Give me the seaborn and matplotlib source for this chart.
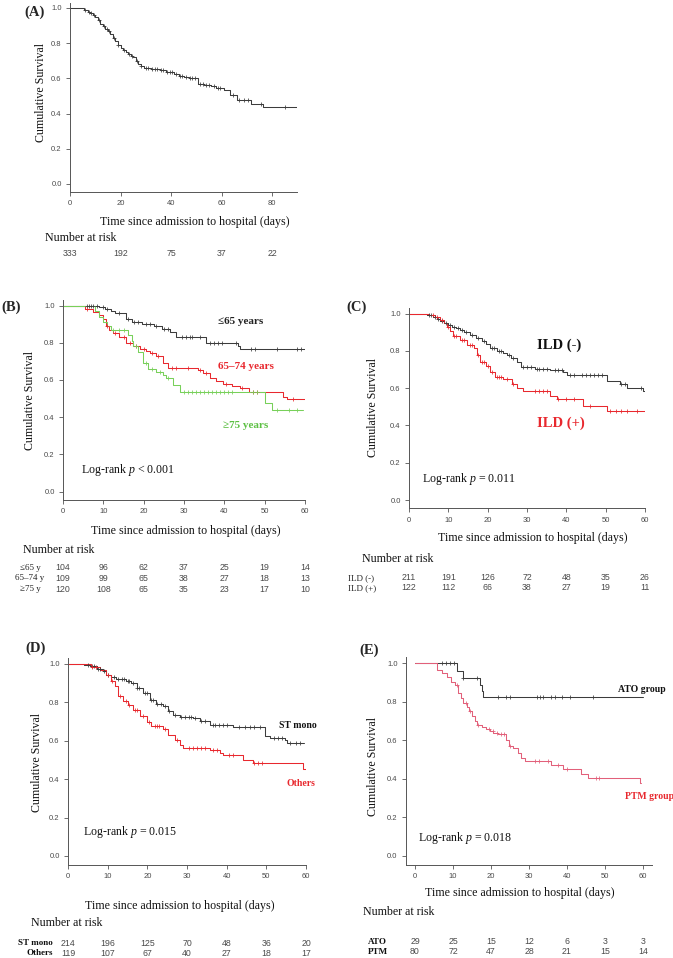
import numpy as np
import pandas as pd
import matplotlib.pyplot as plt
import seaborn as sns
from matplotlib.transforms import blended_transform_factory

W, H = 673, 958

# ---- (A) whole cohort ----
a_time = [0, 5.5, 7, 8, 9, 10, 11, 12, 13, 14, 15, 16, 17, 18, 19, 20, 21, 22, 23, 24, 25, 26,
          27, 28, 29.5, 32, 35.5, 38, 41, 43, 45, 47, 50.5, 53, 56, 58, 61, 63.5, 66, 71.5, 76.5]
a_surv = [1.0, 0.99, 0.98, 0.97, 0.96, 0.95, 0.93, 0.91, 0.90, 0.88, 0.87, 0.85, 0.83, 0.81, 0.79,
          0.77, 0.76, 0.75, 0.74, 0.73, 0.72, 0.70, 0.68, 0.67, 0.66, 0.655, 0.645, 0.635, 0.625,
          0.615, 0.61, 0.60, 0.567, 0.56, 0.554, 0.545, 0.535, 0.507, 0.48, 0.455, 0.437]
a_cens = [6, 7.5, 8.5, 9.5, 11.5, 13.5, 14.5, 15.5, 17.5, 19, 21.5, 23.5, 24.5, 26.5, 28, 30, 31,
          32.5, 33.5, 34.5, 36, 37, 38.5, 39.5, 40.5, 42, 43.5, 44.5, 46, 47.5, 48.5, 49.5, 51.5,
          52.5, 54, 55, 57, 58.5, 59.5, 64.5, 67, 69, 70.5, 75.5, 85]
a_end = 90
a_risk_days = [0, 20, 40, 60, 80]
a_risk = [333, 192, 75, 37, 22]

# ---- (B) age groups ----
b_young_time = [0, 9, 10.5, 12, 13, 15.5, 17, 19.5, 22.5, 24.5, 26.5, 28, 35.5, 43.5, 44]
b_young_surv = [1.0, 0.99, 0.98, 0.97, 0.96, 0.93, 0.91, 0.90, 0.89, 0.875, 0.86, 0.83, 0.80,
                0.785, 0.765]
b_young_cens = [6, 6.5, 7, 7.5, 8.5, 10, 11, 14, 16, 17.5, 18.5, 20.5, 21.5, 23, 25, 26, 29.5,
                30.5, 31.5, 32, 34, 36.5, 37.5, 38.5, 39.5, 43, 46.5, 47.5, 53, 58, 59]
b_mid_time = [0, 5.5, 7.5, 9, 10, 10.7, 11.5, 12.5, 14, 15.7, 17.4, 19, 20.5, 21.5, 23, 24.8, 26,
              33.5, 34.7, 36.4, 38, 39.7, 42, 43.8, 46, 54.5, 55.5]
b_mid_surv = [1.0, 0.98, 0.965, 0.95, 0.93, 0.89, 0.87, 0.85, 0.83, 0.80, 0.78, 0.765, 0.755,
              0.745, 0.73, 0.69, 0.662, 0.652, 0.64, 0.61, 0.595, 0.58, 0.57, 0.555, 0.535,
              0.51, 0.497]
b_mid_cens = [6, 11, 13, 15, 16.5, 18, 20, 22, 23.5, 27, 28, 31, 34, 35.5, 40.5, 44.5, 47, 48, 57]
b_old_time = [0, 8, 9, 10, 11, 12, 16, 17, 17.4, 18.6, 19.8, 21.1, 23.1, 24.8, 25.6, 27.3, 28.9,
              50, 51.7]
b_old_surv = [1.0, 0.97, 0.94, 0.91, 0.89, 0.87, 0.84, 0.81, 0.78, 0.75, 0.69, 0.66, 0.644,
              0.626, 0.608, 0.573, 0.535, 0.475, 0.44]
b_old_cens = [12.5, 14, 15, 18, 20.5, 22, 24, 26, 30, 31, 32, 33, 34, 35, 36, 37, 38, 39, 40, 41,
              42, 47, 48, 53, 56, 58]
b_labels = ["\u226465 y", "65\u201374 y", "\u226575 y"]
b_risk_young = [104, 96, 62, 37, 25, 19, 14]
b_risk_mid = [109, 99, 65, 38, 27, 18, 13]
b_risk_old = [120, 108, 65, 35, 23, 17, 10]

# ---- (C) ILD ----
c_neg_time = [0, 4.5, 6, 7, 8, 9, 10, 11, 12, 13, 14, 15.5, 17, 18.5, 19.5, 20.5, 22.3, 24, 25,
              26, 27.4, 28.6, 32, 35.8, 39.2, 40.2, 50.3, 53.6, 55.3, 59.6]
c_neg_surv = [1.0, 0.99, 0.98, 0.97, 0.96, 0.95, 0.94, 0.93, 0.92, 0.91, 0.90, 0.885, 0.87, 0.85,
              0.835, 0.815, 0.80, 0.786, 0.775, 0.76, 0.74, 0.714, 0.705, 0.695, 0.685, 0.67,
              0.64, 0.624, 0.60, 0.584]
c_neg_cens = [5, 5.5, 6.5, 7.5, 8.5, 9.5, 10.5, 11.5, 12.5, 13.5, 14.5, 16, 17.5, 19, 21, 21.5,
              23, 23.5, 25.5, 26.5, 29, 30, 31, 32.5, 33, 34, 35, 37, 38, 39, 41, 42, 44, 45, 46,
              47, 48, 49, 54, 55, 59]
c_pos_time = [0, 5, 6.5, 7.9, 9, 9.6, 10.4, 11.3, 13, 14.7, 16.4, 17.2, 18.1, 19.7, 20.6, 21.9,
              24, 26.1, 27.4, 29.1, 35.8, 37.5, 44.3, 50.3]
c_pos_surv = [1.0, 0.99, 0.98, 0.967, 0.95, 0.93, 0.904, 0.877, 0.86, 0.83, 0.814, 0.777, 0.74,
              0.72, 0.687, 0.66, 0.65, 0.623, 0.60, 0.585, 0.56, 0.542, 0.504, 0.479]
c_pos_cens = [6, 7, 8.5, 10, 11.5, 12, 13.5, 14, 15.5, 16, 17.5, 18.5, 19, 20, 21, 22.5, 23,
              23.5, 25, 26.5, 32, 33, 34, 35, 38, 40, 42, 46, 51, 52.5, 54, 55.5, 58]
c_labels = ["ILD (-)", "ILD (+)"]
c_risk_neg = [211, 191, 126, 72, 48, 35, 26]
c_risk_pos = [122, 112, 66, 38, 27, 19, 11]

# ---- (D) ST monotherapy vs others ----
d_st_time = [0, 4, 5.5, 7.2, 8.8, 9.7, 10.9, 12.2, 14.7, 16, 17.3, 18.9, 20.6, 22.3, 24, 25.3,
             26.5, 28.2, 31.6, 33.2, 35.8, 41.7, 49.7, 50.9, 54.7, 55.1]
d_st_surv = [1.0, 0.995, 0.988, 0.974, 0.962, 0.944, 0.932, 0.923, 0.913, 0.90, 0.875, 0.849,
             0.814, 0.791, 0.779, 0.753, 0.736, 0.723, 0.717, 0.704, 0.683, 0.67, 0.623, 0.614,
             0.602, 0.591]
d_st_cens = [5, 6, 6.5, 7.5, 8, 9, 10, 11.5, 12.5, 13.5, 14, 15, 15.5, 16.5, 17.5, 18, 19.5, 20,
             21, 21.5, 22.5, 23.5, 24.5, 25.5, 27, 28.5, 29.5, 30.5, 31, 32, 33.5, 34.5, 36.5, 37,
             38, 39, 40, 43, 44.5, 46, 47, 48.5, 52, 53, 54, 56, 57.5, 58.5]
d_oth_time = [0, 5.9, 8, 9.7, 10.9, 11.8, 12.6, 13.9, 15.2, 16.4, 18.1, 19.8, 21, 24, 25.3, 26.9,
              28.2, 29, 35.8, 38.3, 39.1, 44.2, 46.7, 59.3]
d_oth_surv = [1.0, 0.984, 0.97, 0.944, 0.91, 0.883, 0.831, 0.805, 0.788, 0.762, 0.727, 0.70,
              0.678, 0.661, 0.631, 0.605, 0.579, 0.565, 0.553, 0.539, 0.527, 0.501, 0.483, 0.454]
d_oth_cens = [6, 7, 10, 11, 13, 14.5, 15.5, 17, 17.5, 19, 20.5, 22, 22.5, 23, 24.5, 27.5, 30.5,
              31.5, 32.5, 33.5, 34.5, 36.5, 37.5, 40.5, 41.5, 47, 48, 49]
d_labels = ["ST mono", "Others"]
d_risk_st = [214, 196, 125, 70, 48, 36, 20]
d_risk_oth = [119, 107, 67, 40, 27, 18, 17]

# ---- (E) ATO vs PTM ----
e_ato_time = [0, 11, 12.5, 17, 17.5, 18]
e_ato_surv = [1.0, 0.96, 0.92, 0.885, 0.855, 0.822]
e_ato_cens = [7, 8.1, 9.2, 10.2, 12.7, 16.2, 21.9, 24, 25, 32, 32.8, 33.7, 35.9, 36.8, 38.8, 40.7,
              46.8]
e_ptm_time = [0, 5.7, 7, 8.3, 9.6, 10.5, 11.4, 12.1, 12.7, 13.6, 14.3, 14.9, 15.8, 16.2, 17.5,
              18.8, 19.7, 20.6, 21.9, 23.9, 24.8, 25.8, 27.1, 28, 28.9, 35.9, 39, 43.8, 45.5, 59.1]
e_ptm_surv = [1.0, 0.965, 0.948, 0.925, 0.90, 0.885, 0.847, 0.821, 0.795, 0.774, 0.751, 0.725,
              0.699, 0.678, 0.67, 0.659, 0.647, 0.638, 0.63, 0.603, 0.572, 0.56, 0.534, 0.508,
              0.49, 0.473, 0.45, 0.426, 0.403, 0.377]
e_ptm_cens = [11, 13.5, 14.5, 16.5, 19.5, 20.5, 21.5, 22.5, 23.5, 25, 31.5, 32.5, 35, 37.5, 40,
              47.5, 48.5]
e_labels = ["ATO", "PTM"]
e_risk_ato = [29, 25, 15, 12, 6, 3, 3]
e_risk_ptm = [80, 72, 47, 28, 21, 15, 14]

days60 = [0, 10, 20, 30, 40, 50, 60]

BLACK = "#3c3c3c"
RED = "#e8282e"
GREEN = "#78d05a"
GREEN_TXT = "#5cc043"
PINK = "#e2607a"
GRAY = "#4a4a4a"

sns.set_theme(style="ticks")
plt.rcParams["font.family"] = ["Liberation Serif", "DejaVu Serif"]
plt.rcParams["mathtext.fontset"] = "custom"
plt.rcParams["mathtext.rm"] = "Liberation Serif"
plt.rcParams["mathtext.it"] = "Liberation Serif:italic"
SANS = ["Liberation Sans", "DejaVu Sans"]

fig = plt.figure(figsize=(W / 100, H / 100), dpi=100)


def make_axes(xlim, xa, pxa, xb, pxb, py0, py1, ylim=(-0.045, 1.03)):
    # place an axes so that data x=xa sits at pixel pxa, y=0 at py0, y=1 at py1
    sx = (pxb - pxa) / (xb - xa)
    sy = py0 - py1
    left = pxa + (xlim[0] - xa) * sx
    right = pxa + (xlim[1] - xa) * sx
    top = py0 - ylim[1] * sy
    bottom = py0 - ylim[0] * sy
    ax = fig.add_axes([left / W, 1 - bottom / H, (right - left) / W, (bottom - top) / H])
    ax.set_xlim(*xlim)
    ax.set_ylim(*ylim)
    sns.despine(ax=ax)
    for s in ("left", "bottom"):
        ax.spines[s].set_linewidth(0.7)
        ax.spines[s].set_color("#555555")
    ax.set_yticks([0, 0.2, 0.4, 0.6, 0.8, 1.0])
    ax.set_yticklabels(["0.0", "0.2", "0.4", "0.6", "0.8", "1.0"])
    ax.tick_params(length=3, width=0.6, color="#555555", labelsize=5.5, labelcolor=GRAY,
                   pad=3, labelfontfamily="Liberation Sans")
    ax.set_xlabel("")
    ax.set_ylabel("")
    return ax


def km(ax, t, s, cens, end, color):
    df = pd.DataFrame({"t": list(t) + [end], "s": list(s) + [s[-1]]})
    sns.lineplot(data=df, x="t", y="s", ax=ax, color=color, lw=0.75, drawstyle="steps-post",
                 estimator=None, sort=False, legend=False)
    idx = np.searchsorted(np.array(t), np.array(cens), side="right") - 1
    cdf = pd.DataFrame({"t": cens, "s": np.array(s)[idx]})
    sns.scatterplot(data=cdf, x="t", y="s", ax=ax, marker="+", color=color, s=9,
                    linewidth=0.55, legend=False, zorder=3)
    ax.set_xlabel("")
    ax.set_ylabel("")


def ftext(px, py, s, **kw):
    fig.text(px / W, 1 - py / H, s, **kw)


def risk_row(ax, days, values, py):
    tr = blended_transform_factory(ax.transData, fig.transFigure)
    for d, v in zip(days, values):
        ax.text(d, 1 - py / H, str(v), transform=tr, ha="center", va="center", fontsize=6.3,
                color=GRAY, family=SANS)


LAB = dict(fontsize=8.6, color="#111111")

# ---------------- (A) ----------------
axA = make_axes((0, 90), 0, 70, 80, 272, 184, 8)
km(axA, a_time, a_surv, a_cens, a_end, BLACK)
axA.set_xticks([0, 20, 40, 60, 80])
ftext(35, 12, "(A)", fontsize=10.5, fontweight="bold", ha="center", va="center")
ftext(40.5, 92, "Cumulative Survival", rotation=90, ha="center", va="center", **LAB)
ftext(194.5, 222, "Time since admission to hospital (days)", ha="center", va="center", **LAB)
ftext(45, 238, "Number at risk", ha="left", va="center", **LAB)
risk_row(axA, a_risk_days, a_risk, 253)

# ---------------- (B) ----------------
axB = make_axes((0, 60), 0, 63, 60, 305, 491.7, 305.5)
km(axB, b_young_time, b_young_surv, b_young_cens, 60, BLACK)
km(axB, b_mid_time, b_mid_surv, b_mid_cens, 60, RED)
km(axB, b_old_time, b_old_surv, b_old_cens, 59.5, GREEN)
axB.set_xticks(days60)
axB.text(38.4, 0.916, "\u226465 years", color="#222222", fontsize=8, fontweight="bold",
         va="center")
axB.text(38.4, 0.675, "65\u201374 years", color=RED, fontsize=8, fontweight="bold", va="center")
axB.text(39.7, 0.358, "\u226575 years", color=GREEN_TXT, fontsize=8, fontweight="bold",
         va="center")
axB.text(4.5, 0.117, "Log-rank $p$ < 0.001", fontsize=8.6, va="center", color="#111111")
ftext(11, 307, "(B)", fontsize=10.5, fontweight="bold", ha="center", va="center")
ftext(30, 401, "Cumulative Survival", rotation=90, ha="center", va="center", **LAB)
ftext(185.5, 531, "Time since admission to hospital (days)", ha="center", va="center", **LAB)
ftext(23, 550, "Number at risk", ha="left", va="center", **LAB)
for lab, vals, py in zip(b_labels, [b_risk_young, b_risk_mid, b_risk_old], [568, 578.5, 589]):
    ftext(30, py, lab, ha="center", va="center", fontsize=6.5, color="#222222")
    risk_row(axB, days60, vals, py)

# ---------------- (C) ----------------
axC = make_axes((0, 60), 0, 409, 60, 645, 500, 313.5)
km(axC, c_neg_time, c_neg_surv, c_neg_cens, 60, BLACK)
km(axC, c_pos_time, c_pos_surv, c_pos_cens, 60, RED)
axC.set_xticks(days60)
axC.text(32.5, 0.831, "ILD (-)", color="#111111", fontsize=10.5, fontweight="bold", va="center")
axC.text(32.5, 0.413, "ILD (+)", color=RED, fontsize=10.5, fontweight="bold", va="center")
axC.text(3.3, 0.113, "Log-rank $p$ = 0.011", fontsize=8.6, va="center", color="#111111")
ftext(356.5, 307, "(C)", fontsize=10.5, fontweight="bold", ha="center", va="center")
ftext(373, 408, "Cumulative Survival", rotation=90, ha="center", va="center", **LAB)
ftext(533, 538, "Time since admission to hospital (days)", ha="center", va="center", **LAB)
ftext(362, 559, "Number at risk", ha="left", va="center", **LAB)
for lab, vals, py in zip(c_labels, [c_risk_neg, c_risk_pos], [578, 588]):
    ftext(348, py, lab, ha="left", va="center", fontsize=6.5, color="#222222")
    risk_row(axC, days60, vals, py)

# ---------------- (D) ----------------
axD = make_axes((0, 60), 0, 68, 60, 306, 856, 664)
km(axD, d_st_time, d_st_surv, d_st_cens, 59.5, BLACK)
km(axD, d_oth_time, d_oth_surv, d_oth_cens, 60, RED)
axD.set_xticks(days60)
axD.text(53.2, 0.682, "ST mono", color="#111111", fontsize=7, fontweight="bold", va="center")
axD.text(55, 0.38, "Others", color=RED, fontsize=7, fontweight="bold", va="center")
axD.text(3.8, 0.125, "Log-rank $p$ = 0.015", fontsize=8.6, va="center", color="#111111")
ftext(36, 648, "(D)", fontsize=10.5, fontweight="bold", ha="center", va="center")
ftext(37, 762, "Cumulative Survival", rotation=90, ha="center", va="center", **LAB)
ftext(179.5, 906, "Time since admission to hospital (days)", ha="center", va="center", **LAB)
ftext(31, 923, "Number at risk", ha="left", va="center", **LAB)
for lab, vals, py in zip(d_labels, [d_risk_st, d_risk_oth], [943, 953]):
    ftext(53, py, lab, ha="right", va="center", fontsize=6.5, fontweight="bold",
          color="#111111")
    risk_row(axD, days60, vals, py)

# ---------------- (E) ----------------
axE = make_axes((-2.4, 62.4), 0, 415, 60, 643, 856, 663)
km(axE, e_ato_time, e_ato_surv, e_ato_cens, 60, BLACK)
km(axE, e_ptm_time, e_ptm_surv, e_ptm_cens, 59.6, PINK)
axE.set_xticks(days60)
axE.text(53.4, 0.865, "ATO group", color="#111111", fontsize=7, fontweight="bold",
         va="center")
axE.text(55.3, 0.306, "PTM group", color=RED, fontsize=7, fontweight="bold", va="center",
         clip_on=False)
axE.text(0.8, 0.093, "Log-rank $p$ = 0.018", fontsize=8.6, va="center", color="#111111")
ftext(369.5, 650, "(E)", fontsize=10.5, fontweight="bold", ha="center", va="center")
ftext(373, 767, "Cumulative Survival", rotation=90, ha="center", va="center", **LAB)
ftext(520, 893, "Time since admission to hospital (days)", ha="center", va="center", **LAB)
ftext(363, 912, "Number at risk", ha="left", va="center", **LAB)
for lab, vals, py in zip(e_labels, [e_risk_ato, e_risk_ptm], [942, 952]):
    ftext(368, py, lab, ha="left", va="center", fontsize=6.5, fontweight="bold",
          color="#111111")
    risk_row(axE, days60, vals, py)

fig.savefig("out.png", dpi=100)
